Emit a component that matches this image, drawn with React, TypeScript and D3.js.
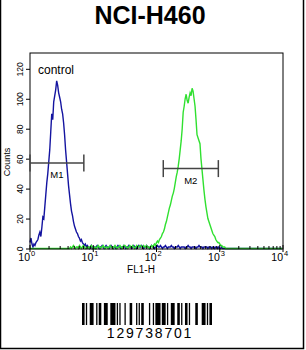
import React from "react";
import * as d3 from "d3";

// histogram channels: 256 log channels over 4 decades (64 per decade)
const CHANNELS = 256;

// control (blue) – peak part from channel 0, tail from channel 65
const bluePeak = [
  4, 7, 3, 1, 3, 2, 4, 5, 6, 9, 11, 8, 14, 21, 20, 28, 36, 44, 50, 58,
  66, 78, 90, 86, 98, 102, 106, 112, 109, 104, 101, 98, 93, 90, 84, 76, 66, 58, 50, 42,
  36, 30, 25, 22, 18, 15, 13, 11, 10, 8, 7, 5, 6, 4, 3, 2, 3, 1, 2, 1,
  0, 1, 2, 0, 1,
];
const blueTail = [
  1, 0, 1, 2, 1, 0, 1, 1, 2, 1, 0, 1, 2, 1, 1, 0, 1, 2, 1, 0,
  1, 1, 0, 1, 2, 1, 1, 0, 1, 1, 2, 1, 0, 1, 1, 2, 1, 1, 0, 1,
  2, 1, 1, 0, 1, 2, 1, 1, 2, 1, 0, 1, 1, 2, 1, 1, 0, 1, 2, 1,
  1, 0, 1, 1, 2, 1, 1, 2, 1, 0, 1, 1, 2, 1, 0, 1, 1, 1, 2, 1,
  1, 0, 1, 1, 1, 2, 1, 0, 1, 1, 1, 1, 0, 1, 1, 2, 1, 1, 0, 1,
  1, 1, 1, 0, 1, 1, 2, 1, 1, 1, 0, 1, 1, 1, 1, 0, 1, 1, 1, 0,
  1, 1, 0, 1, 1, 0, 1, 0, 0, 1, 0, 0, 0, 0, 0,
];

// sample (green) – low noise from channel 40, peak from channel 120
const greenLow = [
  0, 1, 0, 1, 2, 1, 0, 1, 1, 0, 2, 1, 0, 1, 2, 1, 0, 0, 1, 1,
  0, 1, 2, 1, 0, 0, 1, 0, 1, 2, 1, 0, 1, 1, 2, 1, 0, 1, 1, 0,
  1, 2, 1, 1, 0, 1, 2, 1, 0, 1, 1, 2, 1, 0, 1, 2, 2, 1, 1, 0,
  1, 2, 1, 1, 2, 1, 0, 1, 2, 1, 1, 2, 2, 1, 1, 2, 1, 1, 2, 1,
];
const greenPeak = [
  1, 0, 1, 2, 1, 2, 3, 2, 4, 5, 4, 6, 7, 8, 10, 11, 13, 16, 18, 21,
  24, 27, 29, 32, 35, 37, 40, 44, 48, 51, 55, 60, 66, 72, 80, 91, 95, 100, 103, 99,
  97, 101, 104, 102, 107, 105, 100, 95, 86, 76, 74, 72, 70, 60, 53, 46, 39, 33, 28, 24,
  20, 18, 16, 14, 12, 10, 9, 8, 6, 5, 4, 4, 3, 2, 2, 1, 1, 1, 0,
];

const yTicks = [0, 20, 40, 60, 80, 100, 120];
const decades = [0, 1, 2, 3, 4];
const markers = [
  { name: "M1", from: 1, to: 7.1, level: 57.5 },
  { name: "M2", from: 128, to: 950, level: 53.7 },
];

// Code 128 symbols for "129738701" (start C, 12, 97, 38, 70, code B, "1", check, stop)
const barcodePatterns = [
  "211232", "112232", "411113", "132311", "112412", "114131", "123221", "122114", "2331112",
];
const barcodeText = "129738701";

function toSeries(parts: { start: number; values: number[] }[]) {
  const arr: number[] = new Array(CHANNELS).fill(0);
  parts.forEach((p) => p.values.forEach((v, i) => (arr[p.start + i] = v)));
  return arr;
}

const blueCounts = toSeries([
  { start: 0, values: bluePeak },
  { start: 65, values: blueTail },
]);
const greenCounts = toSeries([
  { start: 40, values: greenLow },
  { start: 120, values: greenPeak },
]);

const font = "'Liberation Sans', Arial, sans-serif";

export default function App() {
  const left = 30, right = 283, top = 53, bottom = 249;

  const x = d3.scaleLog().domain([1, 10000]).range([left, right]);
  const y = d3.scaleLinear().domain([0, 130.9]).range([bottom, top]);

  const line = d3
    .line<number>()
    .x((_, i) => x(Math.pow(10, (i * 4) / CHANNELS)))
    .y((d) => y(d) - 0.5);

  const minor: number[] = [];
  decades.slice(0, -1).forEach((e) => {
    for (let k = 2; k < 10; k++) minor.push(k * Math.pow(10, e));
  });

  // barcode bars
  const modules = barcodePatterns.join("").split("").map(Number);
  const totalModules = d3.sum(modules);
  const bx = d3.scaleLinear().domain([0, totalModules]).range([82, 212]);
  const bars: { x0: number; x1: number }[] = [];
  let pos = 0;
  modules.forEach((m, i) => {
    if (i % 2 === 0) bars.push({ x0: bx(pos), x1: bx(pos + m) });
    pos += m;
  });

  return (
    <svg width={306} height={350} style={{ display: "block" }} fontFamily={font}>
      <style>{`body{margin:0}`}</style>
      <rect width={306} height={350} fill="#fff" />
      {/* outer border */}
      <path d="M0.5,0 V348.5 H303.5 V0" fill="none" stroke="#000" strokeWidth={1.5} />

      <text x={150} y={24} textAnchor="middle" fontSize={25} fontWeight="bold">
        NCI-H460
      </text>

      {/* curves */}
      <path d={line(blueCounts) || ""} fill="none" stroke="#1414a0" strokeWidth={1.4} />
      <path d={line(greenCounts) || ""} fill="none" stroke="#30e030" strokeWidth={1.4} />

      {/* frame */}
      <rect x={left} y={top} width={right - left} height={bottom - top} fill="none" stroke="#000" strokeWidth={1} />

      {/* y axis */}
      {yTicks.map((t) => (
        <g key={t} transform={`translate(${left},${y(t)})`}>
          <line x1={-4} x2={0} stroke="#000" />
          <text transform="translate(-7,0) rotate(-90)" textAnchor="middle" fontSize={8.5}>
            {t}
          </text>
        </g>
      ))}
      <text transform="translate(10,162) rotate(-90)" textAnchor="middle" fontSize={9}>
        Counts
      </text>

      {/* x axis */}
      {minor.map((v, i) => (
        <line key={i} x1={x(v)} x2={x(v)} y1={bottom} y2={bottom - 3} stroke="#000" />
      ))}
      {decades.map((e) => {
        const px = x(Math.pow(10, e));
        return (
          <g key={e}>
            <line x1={px} x2={px} y1={bottom - 4} y2={bottom + 3} stroke="#000" />
            <text x={px} y={261} textAnchor="end" fontSize={10.5}>
              10
            </text>
            <text x={px + 1} y={256} fontSize={7.5}>
              {e}
            </text>
          </g>
        );
      })}
      <text x={141} y={273} textAnchor="middle" fontSize={10}>
        FL1-H
      </text>

      <text x={38} y={74} fontSize={12}>
        control
      </text>

      {/* markers */}
      {markers.map((m) => {
        const x0 = x(m.from), x1 = x(m.to), yy = y(m.level);
        return (
          <g key={m.name} stroke="#444" strokeWidth={1.5}>
            <line x1={x0} x2={x1} y1={yy} y2={yy} />
            <line x1={x0} x2={x0} y1={yy - 8.5} y2={yy + 8.5} />
            <line x1={x1} x2={x1} y1={yy - 8.5} y2={yy + 8.5} />
            <text x={(x0 + x1) / 2} y={yy + 15} textAnchor="middle" fontSize={9.5} stroke="none" fill="#000">
              {m.name}
            </text>
          </g>
        );
      })}

      {/* barcode */}
      {bars.map((b, i) => (
        <rect key={i} x={b.x0} y={303} width={b.x1 - b.x0} height={22} fill="#000" />
      ))}
      <text x={150} y={338} textAnchor="middle" fontSize={14} letterSpacing={1.8}>
        {barcodeText}
      </text>
    </svg>
  );
}
